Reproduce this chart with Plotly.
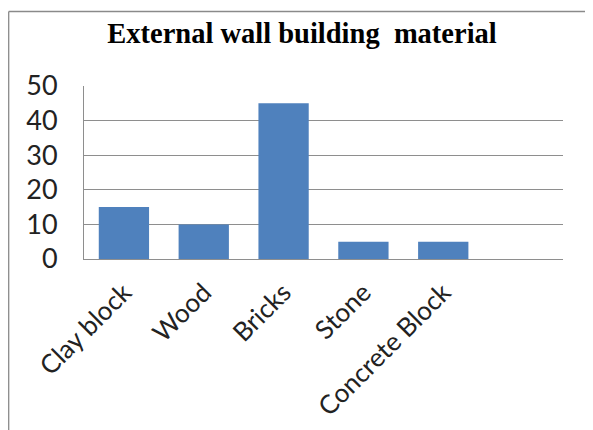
import plotly.graph_objects as go

categories = ["Clay block", "Wood", "Bricks", "Stone", "Concrete Block"]
values = [15, 10, 45, 5, 5]
y_ticks = [0, 10, 20, 30, 40, 50]
title_text = "External wall building\u00a0 material"

OFF = 8  # page offset of the figure inside the browser window
W, H = 593 - OFF, 430 - OFF
# target plot area in window pixels: x 84..563, y 86..259
L = 84 - OFF
T = 86 - OFF
pw = 563 - 84
ph = 259 - 86
R = W - L - pw
B = H - T - ph

def px_x(p):
    return (p - OFF - L) / pw

def px_y(p):
    return (T + ph - (p - OFF)) / ph

fig = go.Figure(
    go.Bar(
        x=categories,
        y=values,
        marker=dict(color="#4F81BD", line=dict(width=0)),
        width=0.63,
    )
)

border = dict(color="#8A8A8A", width=1.3)

fig.update_layout(
    width=W,
    height=H,
    margin=dict(l=L, r=R, t=T, b=B, pad=0, autoexpand=False),
    paper_bgcolor="white",
    plot_bgcolor="white",
    showlegend=False,
    title=dict(
        text="<b>" + title_text + "</b>",
        font=dict(family="Liberation Serif", size=28.5, color="black"),
        x=(302 - OFF) / W,
        xanchor="center",
        y=1 - (33 - OFF) / H,
        yanchor="middle",
        xref="container",
        yref="container",
        pad=dict(l=0, r=0, t=0, b=0),
    ),
    xaxis=dict(
        type="category",
        range=[-0.5, 5.5],
        tickangle=-45,
        tickfont=dict(family="Lato", size=26, color="#222222"),
        showgrid=False,
        showline=True,
        linecolor="#8E8E8E",
        linewidth=1,
        ticks="",
        ticklabelstandoff=7,
        automargin=False,
    ),
    yaxis=dict(
        range=[0, 50],
        tickvals=y_ticks,
        tickfont=dict(family="Lato", size=27, color="#222222"),
        showgrid=True,
        gridcolor="#8E8E8E",
        gridwidth=1,
        showline=True,
        linecolor="#8E8E8E",
        linewidth=1,
        zeroline=False,
        ticks="",
        ticklabelstandoff=20,
        automargin=False,
    ),
    shapes=[
        dict(type="line", xref="paper", yref="paper",
             x0=px_x(8.7), x1=px_x(8.7), y0=px_y(11.5), y1=px_y(500),
             line=border, layer="below"),
        dict(type="line", xref="paper", yref="paper",
             x0=px_x(8.7), x1=px_x(700), y0=px_y(11.5), y1=px_y(11.5),
             line=border, layer="below"),
    ],
)

fig.write_html("out.html")
